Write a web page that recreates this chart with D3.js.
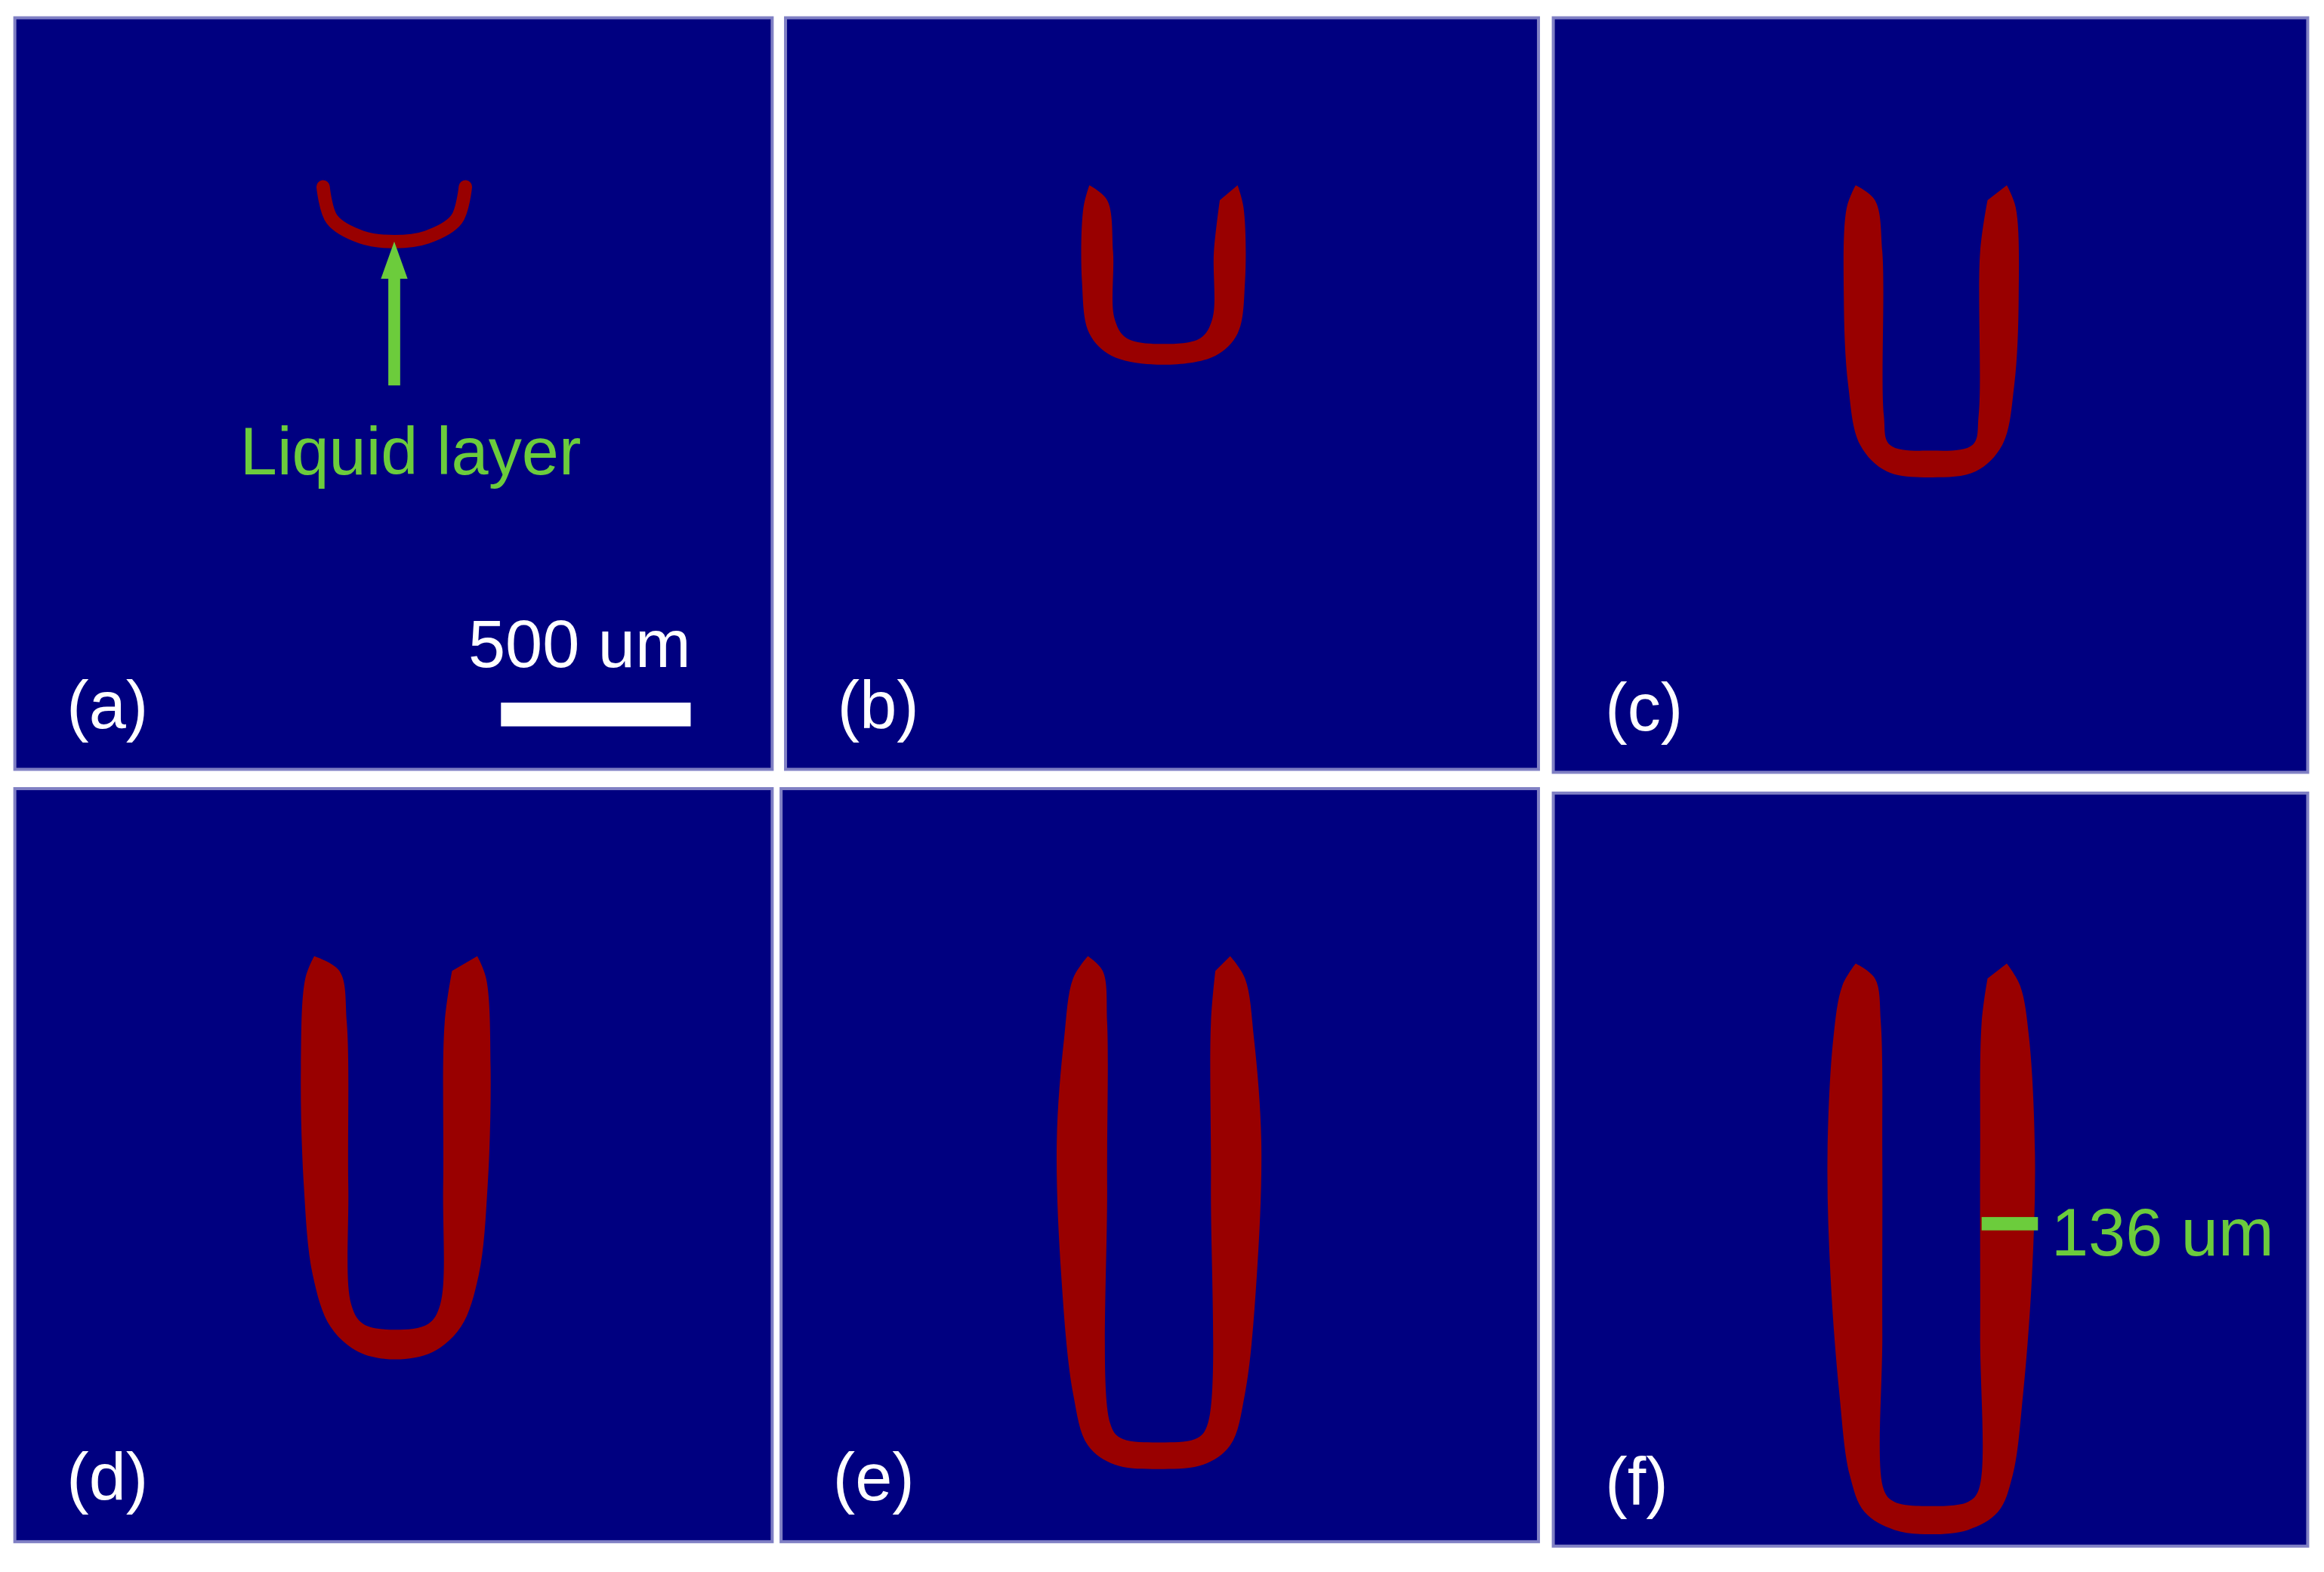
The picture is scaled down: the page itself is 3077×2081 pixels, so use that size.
<!DOCTYPE html>
<html><head><meta charset="utf-8">
<script src="https://cdn.jsdelivr.net/npm/d3@7"></script>
<style>body{margin:0;background:#fff}</style></head>
<body><svg id="c" width="3077" height="2081"></svg>
<script>
const panelLabels = ["(a)","(b)","(c)","(d)","(e)","(f)"];
const panelBoxes = [[10,12,521,519],[530,12,1038,519],[1048,12,1557,521],[10,532,521,1040],[527,532,1038,1040],[1048,535,1557,1043]];
const centers = [266,785,1303,267,782,1303];
const outerProfiles = [null,
 [[50,125],[54,140],[55,190],[50,225],[35,240],[0,246]],
 [[51,125],[57,140],[59,200],[56,260],[48,300],[30,318],[0,322]],
 [[55,645],[61,660],[64,720],[62,800],[56,860],[44,895],[25,912],[0,917]],
 [[48,645],[58,660],[64,700],[69,770],[66,860],[58,940],[48,975],[30,988],[0,991]],
 [[51,650],[60,665],[66,700],[70,780],[68,860],[62,940],[55,995],[45,1020],[25,1032],[0,1035]]];
const innerProfiles = [null,
 [[50,125],[38,135],[34,170],[33,215],[25,228],[0,232]],
 [[51,125],[38,135],[33,170],[32,280],[28,300],[0,304]],
 [[55,645],[38,655],[33,690],[32,800],[30,880],[22,893],[0,897]],
 [[48,645],[38,655],[35,690],[35,800],[33,960],[26,970],[0,973]],
 [[51,650],[38,660],[34,690],[33,780],[33,900],[32,1005],[25,1013],[0,1016]]];
const cupA = [[-48,126],[-42,148],[-22,160],[0,163],[22,160],[42,148],[48,126]];

const s = d3.scaleLinear().domain([0,1568]).range([0,3077]);
const svg = d3.select("#c");
const FONT="Liberation Sans, Arial", FS=s(45);
panelBoxes.forEach((b,i)=>{
  svg.append("rect").attr("x",s(b[0])).attr("y",s(b[1])).attr("width",s(b[2]-b[0])).attr("height",s(b[3]-b[1]))
    .attr("fill","#000080").attr("stroke","#8080c4").attr("stroke-width",4);
  svg.append("text").attr("x",s(b[0]+35)).attr("y",s(b[3]-28)).text(panelLabels[i])
    .attr("fill","#fff").attr("font-family",FONT).attr("font-size",FS);
});
const line = d3.line().x(d=>s(d[0])).y(d=>s(d[1])).curve(d3.curveCatmullRom.alpha(0.5));
svg.append("path").attr("d",line(cupA.map(p=>[centers[0]+p[0],p[1]])))
  .attr("fill","none").attr("stroke","#990000").attr("stroke-width",s(9)).attr("stroke-linecap","round");
for(let i=1;i<6;i++){
  const cx=centers[i], o=outerProfiles[i], n=innerProfiles[i];
  const outer=[], inner=[];
  o.forEach(p=>outer.push([cx-p[0],p[1]]));
  o.slice(0,-1).reverse().forEach(p=>outer.push([cx+p[0],p[1]]));
  n.forEach(p=>inner.push([cx+p[0],p[1]]));
  n.slice(0,-1).reverse().forEach(p=>inner.push([cx-p[0],p[1]]));
  const d = line(outer) + line(inner.slice(1)).replace(/^M/,"L") + "Z";
  svg.append("path").attr("d",d).attr("fill","#990000");
}
const green="#6ccc3c";
svg.append("rect").attr("x",s(262)).attr("y",s(185)).attr("width",s(8)).attr("height",s(75)).attr("fill",green);
svg.append("path").attr("d",`M${s(266)},${s(163)}L${s(275)},${s(188)}L${s(257)},${s(188)}Z`).attr("fill",green);
svg.append("text").attr("x",s(277)).attr("y",s(320)).attr("text-anchor","middle").text("Liquid layer")
  .attr("fill",green).attr("font-family",FONT).attr("font-size",FS);
svg.append("rect").attr("x",s(338)).attr("y",s(474)).attr("width",s(128)).attr("height",s(16)).attr("fill","#fff");
svg.append("text").attr("x",s(466)).attr("y",s(450)).attr("text-anchor","end").text("500 um")
  .attr("fill","#fff").attr("font-family",FONT).attr("font-size",FS);
svg.append("rect").attr("x",s(1337)).attr("y",s(821)).attr("width",s(38)).attr("height",s(9)).attr("fill",green);
svg.append("text").attr("x",s(1384)).attr("y",s(847)).text("136 um")
  .attr("fill",green).attr("font-family",FONT).attr("font-size",FS);
</script></body></html>
